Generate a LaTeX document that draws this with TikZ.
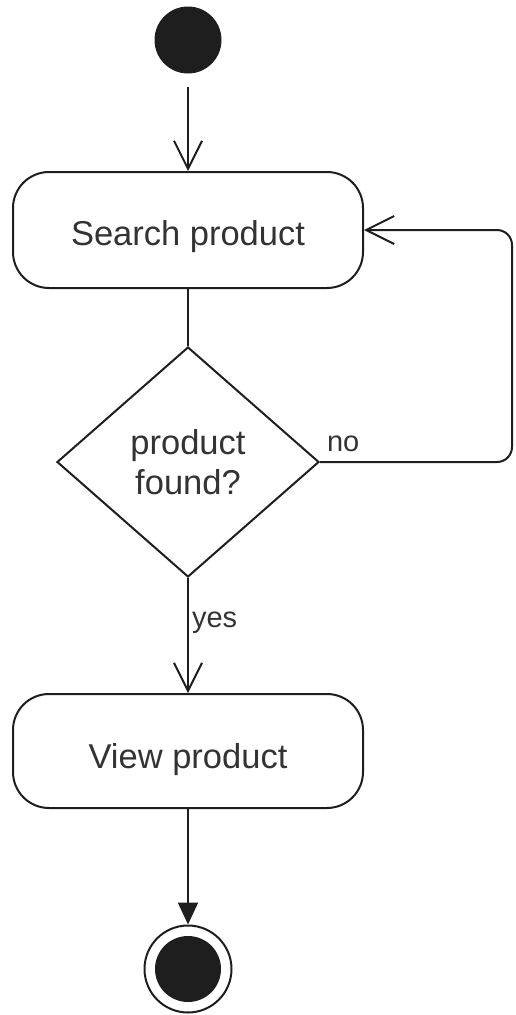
\documentclass[tikz,border=0pt]{standalone}
\usepackage{fontspec}
\setmainfont{Liberation Sans}
\usetikzlibrary{arrows.meta,shapes.geometric}
\definecolor{ink}{HTML}{1E1E1E}
\definecolor{txt}{HTML}{333333}
\begin{document}
\begin{tikzpicture}[x=1pt,y=-1pt,
  color=ink, line width=2pt,
  nodefont/.style={text=txt, font=\fontsize{34.5}{40}\selectfont},
  action/.style={draw, rounded corners=36pt, minimum width=350pt,
    minimum height=116pt, inner sep=0pt, text depth=6pt, nodefont},
  decision/.style={draw, diamond, minimum width=262pt, minimum height=230pt,
    inner sep=0pt, align=center, nodefont},
  lbl/.style={text=txt, font=\fontsize{29}{34}\selectfont, inner sep=3pt},
  openarrow/.style={-{Straight Barb[length=28pt,width=28pt]}},
  filledarrow/.style={-{Triangle[length=22pt,width=20pt]}}]
  \useasboundingbox (0,0) rectangle (516,1015);

  % initial and final states
  \node[circle, fill=ink, minimum size=67pt, inner sep=0pt] (start) at (188,40) {};
  \node[circle, draw, minimum size=87pt, inner sep=0pt] (final) at (188,969) {};
  \node[circle, fill=ink, minimum size=66pt, inner sep=0pt] (finalcore) at (final.center) {};

  % activities and decision
  \node[action, text height=36pt] (search) at (188,230) {Search product};
  \node[decision] (dec) at (188,462) {product\\found?};
  \node[action, minimum height=114pt, text height=40pt] (view) at (188,751) {View product};

  % loop-back column
  \coordinate (loopx) at (512,0);

  % flows
  \draw[openarrow, shorten <=12pt] (start) -- (search);
  \draw (search) -- (dec);
  \draw[openarrow] (dec) -- node[lbl, anchor=west, pos=0.39] (yeslbl) {yes} (view);
  \draw[openarrow, rounded corners=15pt] (dec.east) -- (dec.east -| loopx)
    -- (search.east -| loopx) -- (search.east);
  \node[lbl, anchor=base west] (nolbl) at ([shift={(3,-11)}]dec.east) {no};
  \draw[filledarrow] (view) -- (final);
\end{tikzpicture}
\end{document}
